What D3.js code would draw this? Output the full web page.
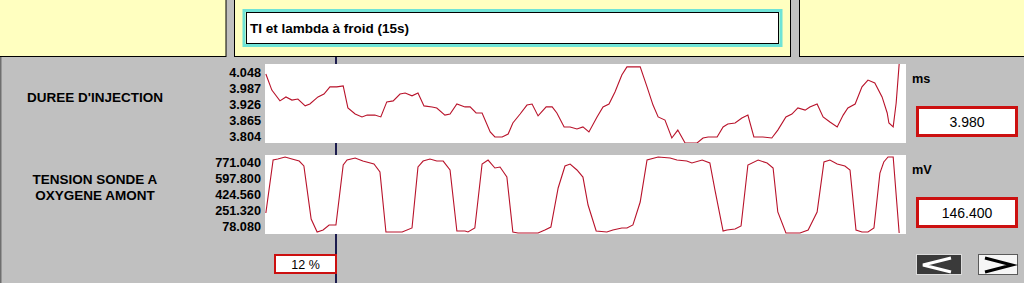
<!DOCTYPE html>
<html>
<head>
<meta charset="utf-8">
<script src="https://cdn.jsdelivr.net/npm/d3@7"></script>
<style>
  html, body { margin: 0; padding: 0; background: #c0c0c0; overflow: hidden; }
  svg { display: block; font-family: "Liberation Sans", Arial, sans-serif; }
</style>
</head>
<body>
<svg></svg>
<script>
const width = 1024;
const height = 283;

// injection time (ms), time in s
const tiTimes = [0.02, 0.16, 0.35, 0.49, 0.63, 0.77, 0.94, 1.05, 1.24, 1.38, 1.52, 1.68, 1.83, 1.94, 2.11, 2.27, 2.39, 2.57, 2.71, 2.85,
  3.00, 3.16, 3.28, 3.44, 3.58, 3.72, 3.91, 4.02, 4.21, 4.33, 4.49, 4.68, 4.80, 4.94, 5.08, 5.27, 5.38, 5.55, 5.69, 5.80,
  5.97, 6.13, 6.25, 6.39, 6.58, 6.72, 6.83, 7.00, 7.14, 7.30, 7.44, 7.58, 7.77, 7.91, 8.05, 8.19, 8.35, 8.47, 8.78, 8.94,
  9.08, 9.20, 9.36, 9.52, 9.66, 9.83, 10.11, 10.25, 10.37, 10.58, 10.72, 10.83, 11.00, 11.16, 11.30, 11.44, 11.65, 11.86, 12.00, 12.19,
  12.33, 12.47, 12.64, 12.75, 12.92, 13.06, 13.22, 13.39, 13.53, 13.64, 13.81, 13.97, 14.11, 14.27, 14.44, 14.56, 14.60, 14.70, 14.77, 14.84];
const tiValues = [4.042, 3.981, 3.940, 3.955, 3.943, 3.947, 3.921, 3.928, 3.955, 3.966, 3.993, 3.993, 3.997, 3.913, 3.890, 3.879, 3.886, 3.886, 3.879, 3.936,
  3.940, 3.966, 3.970, 3.959, 3.970, 3.921, 3.917, 3.913, 3.886, 3.890, 3.928, 3.917, 3.917, 3.894, 3.894, 3.822, 3.803, 3.803, 3.814, 3.856,
  3.890, 3.924, 3.928, 3.883, 3.917, 3.917, 3.894, 3.841, 3.841, 3.833, 3.841, 3.822, 3.879, 3.917, 3.928, 3.974, 4.038, 4.069, 4.069, 3.993,
  3.924, 3.879, 3.867, 3.799, 3.829, 3.780, 3.780, 3.799, 3.803, 3.803, 3.841, 3.852, 3.856, 3.875, 3.886, 3.803, 3.803, 3.799, 3.829, 3.879,
  3.890, 3.913, 3.905, 3.917, 3.928, 3.879, 3.860, 3.841, 3.886, 3.913, 3.928, 3.993, 4.019, 4.008, 3.955, 3.894, 3.856, 3.841, 3.932, 4.080];

// upstream oxygen sensor voltage (mV)
const o2Times = [0.02, 0.19, 0.30, 0.47, 0.63, 0.80, 0.91, 1.08, 1.22, 1.36, 1.50, 1.66, 1.83, 1.92, 2.11, 2.29, 2.55, 2.69, 2.83, 2.97,
  3.21, 3.44, 3.58, 3.70, 3.86, 4.02, 4.17, 4.33, 4.49, 4.68, 4.75, 4.91, 5.08, 5.22, 5.38, 5.50, 5.66, 5.80, 5.92, 6.39,
  6.55, 6.69, 6.86, 7.02, 7.14, 7.30, 7.44, 7.56, 7.75, 8.00, 8.14, 8.35, 8.47, 8.61, 8.78, 8.94, 9.20, 9.48, 9.64, 9.87,
  9.99, 10.23, 10.41, 10.53, 10.72, 10.81, 11.00, 11.14, 11.30, 11.54, 11.75, 11.89, 12.00, 12.19, 12.52, 12.71, 12.92, 13.08, 13.22, 13.39,
  13.57, 13.69, 13.83, 13.97, 14.11, 14.25, 14.39, 14.48, 14.58, 14.70, 14.84];
const o2Values = [226, 796, 807, 829, 807, 785, 732, 161, 22, 43, 97, 97, 742, 796, 818, 785, 753, 667, 22, 22,
  22, 65, 721, 785, 807, 785, 785, 689, 32, 32, 22, 65, 753, 796, 710, 721, 613, 22, 11, 11,
  43, 75, 495, 732, 753, 689, 613, 312, 32, 22, 43, 65, 65, 97, 344, 796, 829, 818, 796, 785,
  764, 796, 764, 473, 32, 43, 54, 86, 742, 796, 764, 710, 237, 11, 11, 43, 237, 775, 796, 753,
  732, 689, 43, 22, 22, 65, 656, 775, 829, 829, 11];

const tiTicks = [4.048, 3.987, 3.926, 3.865, 3.804];
const o2Ticks = [771.04, 597.8, 424.56, 251.32, 78.08];
const panelLabels = [["DUREE D'INJECTION"], ["TENSION SONDE A", "OXYGENE AMONT"]];
const units = ["ms", "mV"];
const readouts = ["3.980", "146.400"];
const title = "TI et lambda à froid (15s)";
const cursorTime = 1.66;
const cursorLabel = "12 %";

const svg = d3.select("svg").attr("width", width).attr("height", height);

// background
svg.append("rect").attr("width", width).attr("height", height).attr("fill", "#c0c0c0");
svg.append("line").attr("x1", 0.75).attr("x2", 0.75).attr("y1", 57).attr("y2", height)
  .attr("stroke", "#6e6e6e").attr("stroke-width", 1.5);

// yellow header panels
const panels = [[-1, 226], [234.5, 790.5], [799.5, 1026]];
svg.selectAll("rect.hdr")
  .data(panels)
  .enter()
  .append("rect")
  .attr("class", "hdr")
  .attr("x", (d) => d[0])
  .attr("y", -1)
  .attr("width", (d) => d[1] - d[0])
  .attr("height", 57.5)
  .attr("fill", "#ffffc0")
  .attr("stroke", "#000")
  .attr("stroke-width", 1);

svg.append("rect").attr("x", 244).attr("y", 10.5).attr("width", 537).attr("height", 35)
  .attr("fill", "none").attr("stroke", "#6fe3d6").attr("stroke-width", 3);
svg.append("rect").attr("x", 246.5).attr("y", 12.5).attr("width", 532).attr("height", 31)
  .attr("fill", "#fff").attr("stroke", "#000").attr("stroke-width", 1);
svg.append("text").attr("x", 250).attr("y", 33).attr("font-size", "13.5px").attr("font-weight", "bold")
  .attr("fill", "#000").text(title);

// scales
const x = d3.scaleLinear().domain([0, 15]).range([265, 906]);
const yTi = d3.scaleLinear().domain([3.78, 4.08]).range([143, 64]);
const yO2 = d3.scaleLinear().domain([0, 850]).range([234, 155]);

// cursor (behind plots)
svg.append("line")
  .attr("x1", Math.round(x(cursorTime))).attr("x2", Math.round(x(cursorTime)))
  .attr("y1", 57).attr("y2", height)
  .attr("stroke", "#1c1c4e").attr("stroke-width", 2);

const charts = [
  { y: yTi, times: tiTimes, values: tiValues, ticks: tiTicks },
  { y: yO2, times: o2Times, values: o2Values, ticks: o2Ticks },
];

charts.forEach((c, i) => {
  const [y0, y1] = c.y.range();
  const g = svg.append("g");

  g.append("clipPath").attr("id", "clip" + i)
    .append("rect").attr("x", x.range()[0]).attr("y", y1).attr("width", x.range()[1] - x.range()[0]).attr("height", y0 - y1);

  g.append("rect")
    .attr("x", x.range()[0]).attr("y", y1)
    .attr("width", x.range()[1] - x.range()[0]).attr("height", y0 - y1)
    .attr("fill", "#fff");

  const line = d3.line().x((d) => x(d[0])).y((d) => c.y(d[1]));
  g.append("path")
    .datum(d3.zip(c.times, c.values))
    .attr("clip-path", "url(#clip" + i + ")")
    .attr("d", line)
    .attr("fill", "none")
    .attr("stroke", "#b8122a")
    .attr("stroke-width", 1.1);

  const axis = g.append("g")
    .attr("transform", `translate(${x.range()[0]},0)`)
    .call(d3.axisLeft(c.y).tickValues(c.ticks).tickSize(0).tickPadding(4).tickFormat(d3.format(".3f")));
  axis.select(".domain").remove();
  axis.selectAll("text")
    .attr("font-family", "'Liberation Sans', Arial, sans-serif")
    .attr("font-size", "12.7px")
    .attr("font-weight", "bold")
    .attr("fill", "#000");

  // left title
  const lines = panelLabels[i];
  const mid = (y0 + y1) / 2 - (i === 0 ? 6 : 7.5);
  g.selectAll("text.lbl")
    .data(lines)
    .enter()
    .append("text")
    .attr("class", "lbl")
    .attr("x", 95)
    .attr("y", (d, k) => mid + (k - (lines.length - 1) / 2) * 16)
    .attr("dy", "0.36em")
    .attr("text-anchor", "middle")
    .attr("font-size", "13.5px")
    .attr("font-weight", "bold")
    .text((d) => d);

  // unit + current value
  g.append("text").attr("x", 912).attr("y", y1 + 14).attr("dy", "0.36em")
    .attr("font-size", "12.7px").attr("font-weight", "bold").text(units[i]);
  g.append("rect").attr("x", 917.5).attr("y", y1 + 43.5).attr("width", 99).attr("height", 28)
    .attr("fill", "#fff").attr("stroke", "#cc1010").attr("stroke-width", 3);
  g.append("text").attr("x", 967).attr("y", y1 + 57.5).attr("dy", "0.36em")
    .attr("text-anchor", "middle").attr("font-size", "14px").attr("fill", "#000").text(readouts[i]);
});

// cursor readout
svg.append("rect").attr("x", 275).attr("y", 255).attr("width", 61).attr("height", 18)
  .attr("fill", "#fff").attr("stroke", "#cc1010").attr("stroke-width", 2);
svg.append("text").attr("x", 305.5).attr("y", 264.5).attr("dy", "0.36em").attr("text-anchor", "middle")
  .attr("font-family", "'Liberation Sans Narrow', 'Liberation Sans', Arial, sans-serif")
  .attr("font-size", "12.5px").attr("fill", "#000").text(cursorLabel);

// navigation buttons
svg.append("rect").attr("x", 916.5).attr("y", 254.5).attr("width", 45).attr("height", 20)
  .attr("fill", "#3a3a3a").attr("stroke", "#dcdcdc").attr("stroke-width", 1);
svg.append("path").attr("d", "M951,258 L923,265 L951,272").attr("fill", "none")
  .attr("stroke", "#fff").attr("stroke-width", 3);
svg.append("rect").attr("x", 978.5).attr("y", 254.5).attr("width", 39).attr("height", 20)
  .attr("fill", "#f6f6f6").attr("stroke", "#5a5a5a").attr("stroke-width", 1);
svg.append("path").attr("d", "M985,258 L1012,265 L985,272").attr("fill", "none")
  .attr("stroke", "#000").attr("stroke-width", 3);
</script>
</body>
</html>
